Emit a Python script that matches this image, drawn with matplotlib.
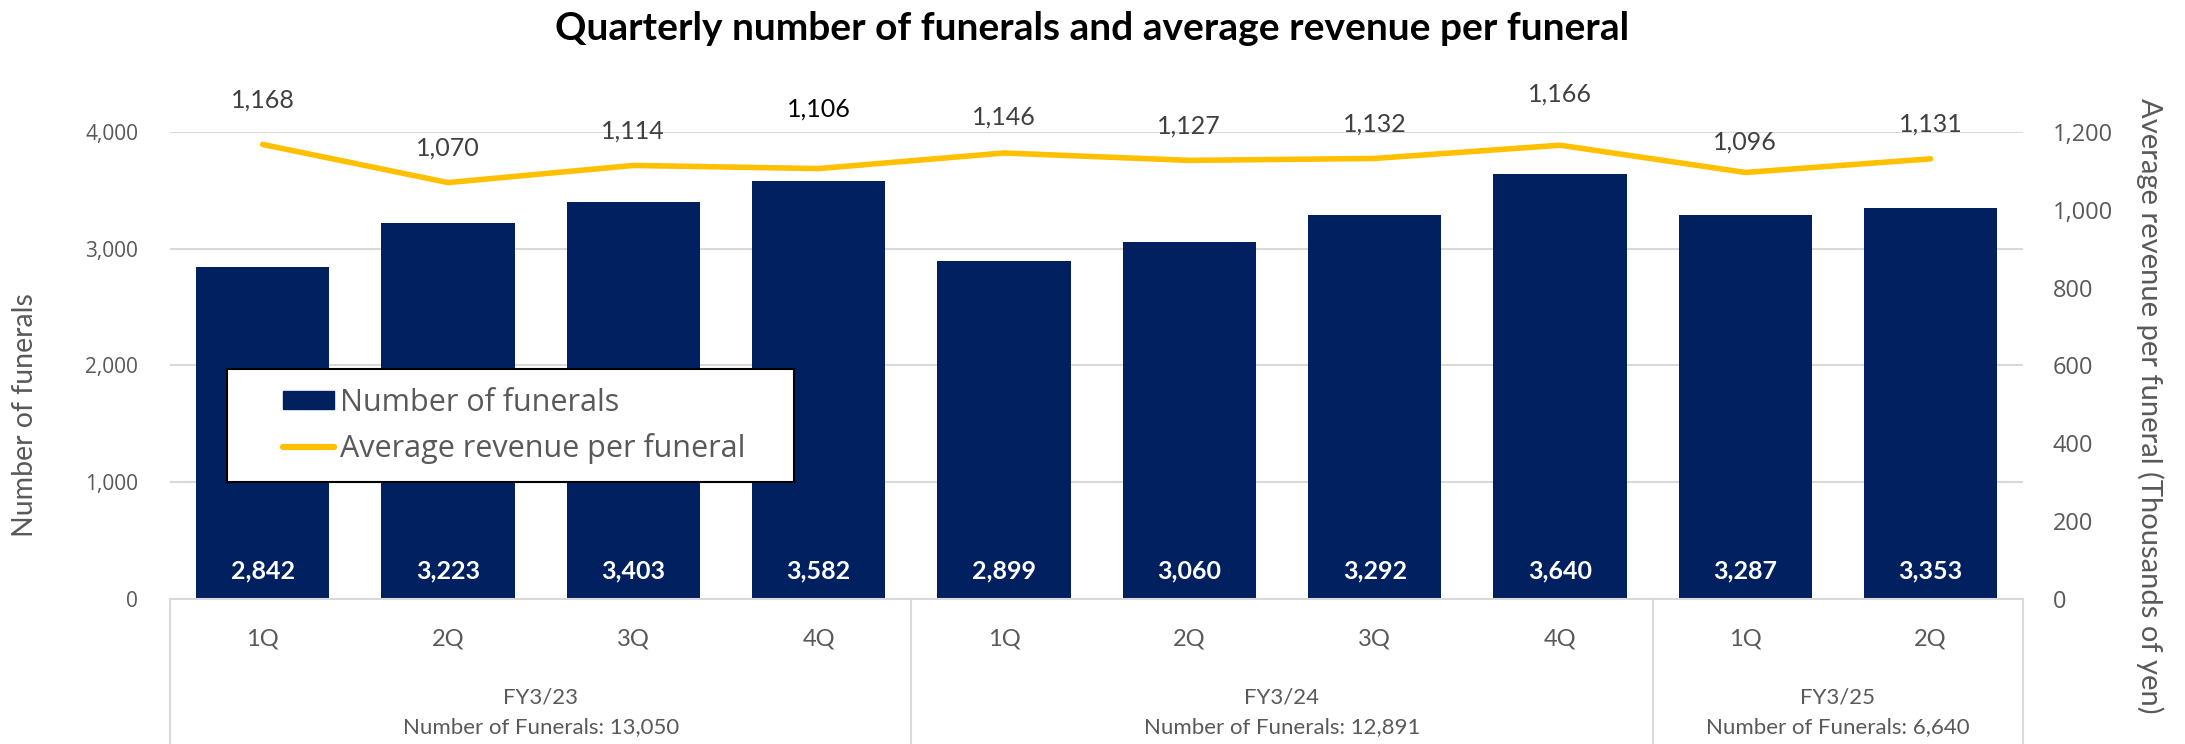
import matplotlib
matplotlib.use("Agg")
import matplotlib.pyplot as plt
from matplotlib.lines import Line2D
from matplotlib.patches import Patch, Rectangle
from matplotlib import transforms

quarters = ["1Q", "2Q", "3Q", "4Q", "1Q", "2Q", "3Q", "4Q", "1Q", "2Q"]
funerals = [2842, 3223, 3403, 3582, 2899, 3060, 3292, 3640, 3287, 3353]
avg_revenue = [1168, 1070, 1114, 1106, 1146, 1127, 1132, 1166, 1096, 1131]
fiscal_years = ["FY3/23", "FY3/24", "FY3/25"]
fy_totals = ["13,050", "12,891", "6,640"]
fy_sizes = [4, 4, 2]

# how far each line label sits above its point (points)
label_lift = [32, 25, 25, 43, 26, 25, 25, 37, 22, 25]

NAVY = "#002060"
GOLD = "#FFC000"
GREY = "#595959"
GRID = "#D9D9D9"
BODY = "Lato"
NUM = "Open Sans"
W, H = 2185, 744

fig = plt.figure(figsize=(W / 100, H / 100), dpi=100)
ax = fig.add_axes([0.0778, 0.1949, 0.926 - 0.0778, 0.8226 - 0.1949])
ax2 = ax.twinx()

x = list(range(len(quarters)))
ax.bar(x, funerals, width=0.72, color=NAVY, zorder=2)
ax2.plot(x, avg_revenue, color=GOLD, lw=4, solid_capstyle="round", zorder=3)

ax.set_xlim(-0.5, len(quarters) - 0.5)
ax.set_ylim(0, 4000)
ax2.set_ylim(0, 1200)
ax.set_yticks(range(0, 4001, 1000))
ax2.set_yticks(range(0, 1201, 200))
ax.yaxis.set_major_formatter(matplotlib.ticker.StrMethodFormatter("{x:,.0f}"))
ax2.yaxis.set_major_formatter(matplotlib.ticker.StrMethodFormatter("{x:,.0f}"))
ax.grid(axis="y", color=GRID, lw=1.5, zorder=0)
ax.set_axisbelow(True)

for a in (ax, ax2):
    for s in a.spines.values():
        s.set_visible(False)
ax.tick_params(axis="y", length=0, pad=23, labelsize=15, labelcolor=GREY)
ax2.tick_params(axis="y", length=0, pad=21, labelsize=17, labelcolor=GREY)
for lbl in ax.get_yticklabels() + ax2.get_yticklabels():
    lbl.set_fontfamily(NUM)

ax.set_xticks(x)
ax.set_xticklabels(quarters, fontsize=17, color=GREY, fontfamily=BODY)
ax.tick_params(axis="x", length=0, pad=21)

# bar value labels at base
for xi, v in zip(x, funerals):
    ax.annotate(f"{v:,}", xy=(xi, 0), xytext=(0, 20), textcoords="offset points",
                ha="center", va="center", color="white", fontsize=18,
                fontweight="bold", fontfamily=BODY)

# line labels above points
for xi, v, lift in zip(x, avg_revenue, label_lift):
    col = "black" if v == 1106 else "#404040"
    ax2.annotate(f"{v:,}", xy=(xi, v), xytext=(0, lift), textcoords="offset points",
                 ha="center", va="center", color=col, fontsize=18, fontfamily=BODY)

# category box below the axis
tr = transforms.blended_transform_factory(ax.transData, fig.transFigure)
y0 = 0.1949
fig.add_artist(Line2D([-0.5, len(quarters) - 0.5], [y0, y0], transform=tr, color=GRID, lw=1.5))
edge = -0.5
fig.add_artist(Line2D([edge, edge], [0, y0], transform=tr, color=GRID, lw=1.5))
for fy, tot, n in zip(fiscal_years, fy_totals, fy_sizes):
    mid = edge + n / 2
    fig.text(mid, 0.063, fy, transform=tr, ha="center", va="center",
             fontsize=16, color=GREY, fontfamily=BODY)
    fig.text(mid, 0.023, f"Number of Funerals: {tot}", transform=tr, ha="center",
             va="center", fontsize=16, color=GREY, fontfamily=BODY)
    edge += n
    fig.add_artist(Line2D([edge, edge], [0, y0], transform=tr, color=GRID, lw=1.5))

fig.text(0.0115, 0.442, "Number of funerals", rotation=90, ha="center", va="center",
         fontsize=20.5, color=GREY, fontfamily=BODY)
fig.text(0.984, 0.455, "Average revenue per funeral (Thousands of yen)", rotation=270,
         ha="center", va="center", fontsize=21, color=GREY, fontfamily=BODY)

fig.text(0.5, 0.962, "Quarterly number of funerals and average revenue per funeral",
         ha="center", va="center", fontsize=28, fontweight="bold", fontfamily=BODY)

# legend: white box with black frame, entries inset from the left
fig.add_artist(Rectangle((227 / W, 1 - 482 / H), (794 - 227) / W, (482 - 369) / H,
                         transform=fig.transFigure, facecolor="white",
                         edgecolor="black", lw=1.5, zorder=5))
handles = [Patch(facecolor=NAVY, edgecolor=NAVY),
           Line2D([0], [0], color=GOLD, lw=4.5, solid_capstyle="round")]
leg = fig.legend(handles, ["Number of funerals", "Average revenue per funeral"],
                 loc="center left", bbox_to_anchor=(283 / W, 1 - 426 / H),
                 fontsize=22, frameon=False, handlelength=1.67, handleheight=0.55,
                 labelspacing=0.5, borderpad=0, handletextpad=0.2, borderaxespad=0)
leg.set_zorder(6)
for t in leg.get_texts():
    t.set_color(GREY)
    t.set_fontfamily(NUM)

fig.savefig("out.png", dpi=100)
